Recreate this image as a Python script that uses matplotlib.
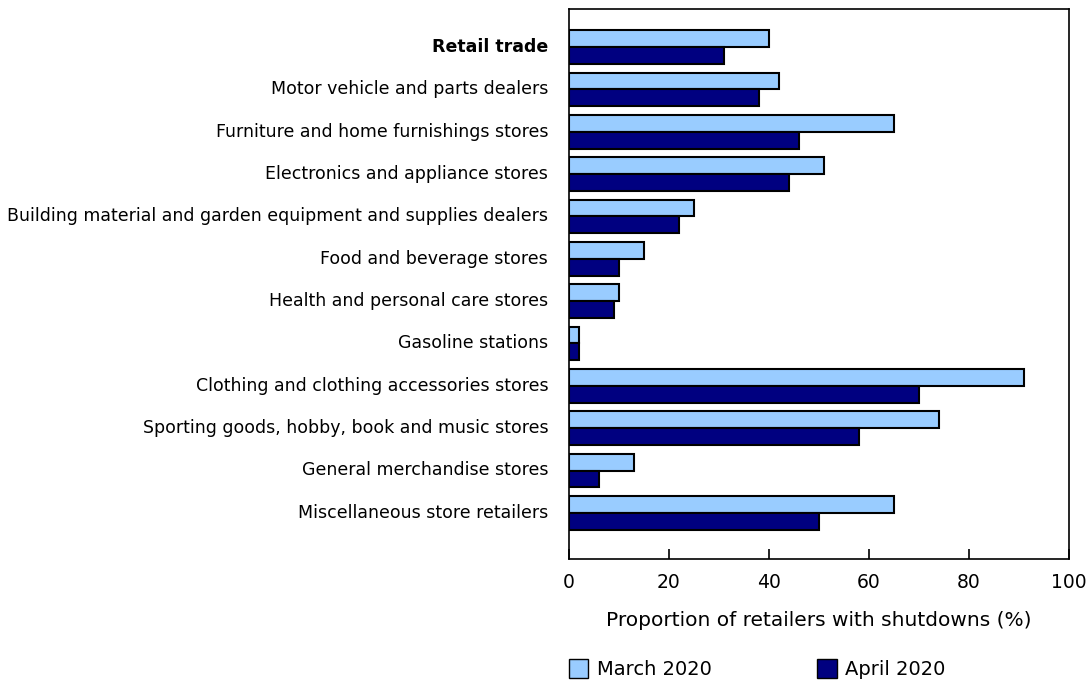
import numpy as np
import matplotlib.pyplot as plt
from matplotlib.patches import Patch

categories = [
    'Retail trade',
    'Motor vehicle and parts dealers',
    'Furniture and home furnishings stores',
    'Electronics and appliance stores',
    'Building material and garden equipment and supplies dealers',
    'Food and beverage stores',
    'Health and personal care stores',
    'Gasoline stations',
    'Clothing and clothing accessories stores',
    'Sporting goods, hobby, book and music stores',
    'General merchandise stores',
    'Miscellaneous store retailers',
]
march = [40, 42, 65, 51, 25, 15, 10, 2, 91, 74, 13, 65]
april = [31, 38, 46, 44, 22, 10, 9, 2, 70, 58, 6, 50]

light = '#99CCFF'
dark = '#000080'

fig = plt.figure(figsize=(10.9, 6.82), dpi=100)
ax = fig.add_axes([569 / 1090, 1 - 559 / 682, 500 / 1090, 550 / 682])

y = np.arange(len(categories))
h = 0.4
ax.barh(y - h / 2, march, height=h, color=light, edgecolor='black', linewidth=1.5)
ax.barh(y + h / 2, april, height=h, color=dark, edgecolor='black', linewidth=1.5)

ax.set_ylim(len(categories) - 1 + 1.09, -0.9)
ax.set_xlim(0, 100)
ax.set_yticks(y - 0.05)
ax.set_yticklabels(categories, fontsize=12.5)
ax.get_yticklabels()[0].set_fontweight('bold')
ax.tick_params(axis='y', length=0, pad=15)
ax.set_xticks([0, 20, 40, 60, 80, 100])
ax.tick_params(axis='x', direction='in', length=7, width=1.2, labelsize=13.5, pad=10)
for s in ax.spines.values():
    s.set_linewidth(1.2)

ax.set_xlabel('Proportion of retailers with shutdowns (%)', fontsize=14.5, labelpad=14)

handles = [Patch(facecolor=light, edgecolor='black', label='March 2020'),
           Patch(facecolor=dark, edgecolor='black', label='April 2020')]
fig.legend(handles=handles, loc='center left', bbox_to_anchor=(569 / 1090, 1 - 669 / 682),
           ncol=2, frameon=False, fontsize=14, handlelength=1.0, handleheight=1.1,
           handletextpad=0.45, columnspacing=5.4, borderpad=0, borderaxespad=0)

fig.savefig('out.png', dpi=100)
